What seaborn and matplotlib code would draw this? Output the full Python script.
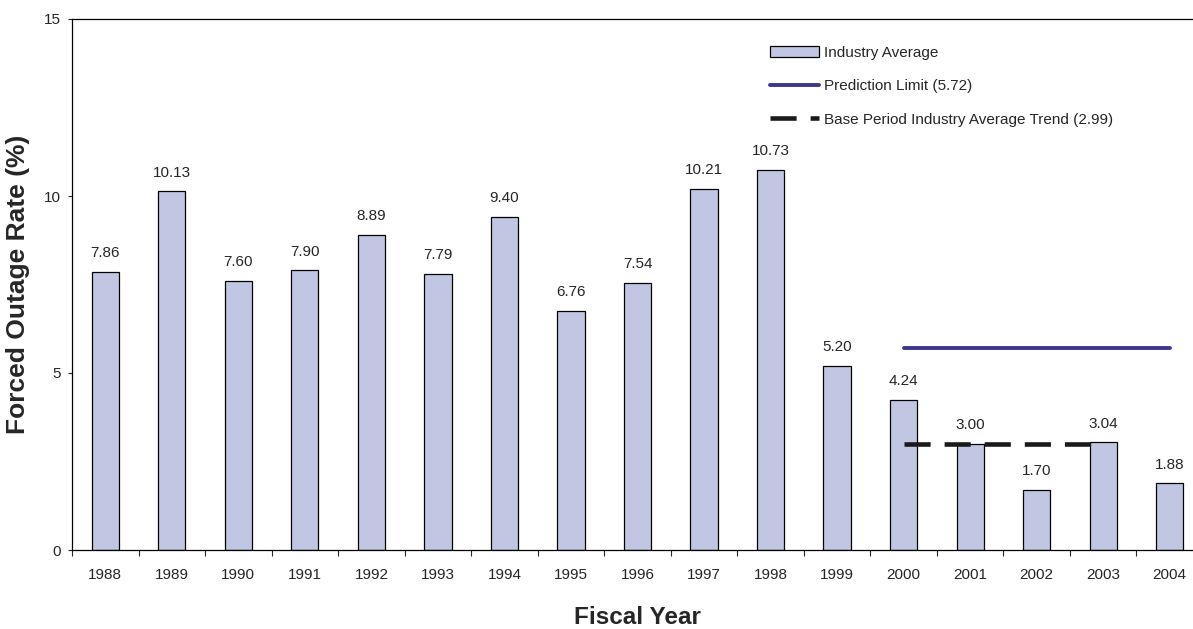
import numpy as np
import pandas as pd
import seaborn as sns
import matplotlib.pyplot as plt
from matplotlib.patches import Patch
from matplotlib.lines import Line2D
from matplotlib.ticker import FixedLocator

# data
years = ['1988', '1989', '1990', '1991', '1992', '1993', '1994', '1995', '1996',
         '1997', '1998', '1999', '2000', '2001', '2002', '2003', '2004']
rates = [7.86, 10.13, 7.60, 7.90, 8.89, 7.79, 9.40, 6.76, 7.54,
         10.21, 10.73, 5.20, 4.24, 3.00, 1.70, 3.04, 1.88]
pred_limit = 5.72
pred_years = ['2000', '2004']
trend_value = 2.99
trend_years = ['2000', '2003']

bar_color = '#c1c7e3'
pred_color = '#3b3889'
dash_style = (5.7, 3.05)

sns.set_style('white')
plt.rcParams['font.family'] = ['Liberation Sans', 'DejaVu Sans']

data = pd.DataFrame({'year': years, 'rate': rates})

W, H = 1193, 629
fig = plt.figure(figsize=(W / 100, H / 100), dpi=100)
# axes runs a little past the right edge of the figure, like the original
ax = fig.add_axes([72 / W, (H - 550) / H, 1131 / W, 531 / H])

sns.barplot(data=data, x='year', y='rate', color=bar_color, width=0.41,
            edgecolor='black', linewidth=0.9, saturation=1, ax=ax)

# value labels
ax.bar_label(ax.containers[0], fmt='%.2f', padding=8.5, fontsize=11)

# horizontal reference lines
px = [years.index(y) for y in pred_years]
ax.plot(px, [pred_limit, pred_limit], color=pred_color, lw=2.8)
tx = [years.index(y) for y in trend_years]
ax.plot(tx, [trend_value, trend_value], color='#1a1a1a', lw=3.3,
        dashes=dash_style, dash_capstyle='butt')

ax.set_ylim(0, 15)
ax.set_xlim(-0.5, 16.5)
ax.set_yticks([0, 5, 10, 15])

# ticks between categories, labels at centres
ax.xaxis.set_minor_locator(FixedLocator(np.arange(-0.5, 17, 1)))
ax.tick_params(axis='x', which='major', length=0, pad=13, labelsize=11)
ax.tick_params(axis='x', which='minor', length=4, width=0.8, direction='out', bottom=True)
ax.tick_params(axis='y', length=3, width=0.8, pad=5, direction='out', left=True, labelsize=11)

for side in ['left', 'bottom', 'top']:
    ax.spines[side].set_color('black')
    ax.spines[side].set_linewidth(0.9)
ax.spines['right'].set_visible(False)

ax.set_xlabel('Fiscal Year', fontsize=17.5, fontweight='bold', labelpad=17)
ax.set_ylabel('Forced Outage Rate (%)', fontsize=19, fontweight='bold', labelpad=10)

handles = [
    Patch(facecolor=bar_color, edgecolor='black', linewidth=0.9),
    Line2D([0], [0], color=pred_color, lw=2.8),
    Line2D([0], [0], color='#1a1a1a', lw=3.3, dashes=dash_style, dash_capstyle='butt'),
]
labels = ['Industry Average', 'Prediction Limit (5.72)',
          'Base Period Industry Average Trend (2.99)']
fig.legend(handles, labels, loc='upper left', bbox_to_anchor=(770 / W, 1 - 46 / H),
           frameon=False, fontsize=11, handlelength=3.2, handletextpad=0.33,
           labelspacing=1.27, handleheight=0.7, borderpad=0, borderaxespad=0)

plt.savefig('out.png', dpi=100)
